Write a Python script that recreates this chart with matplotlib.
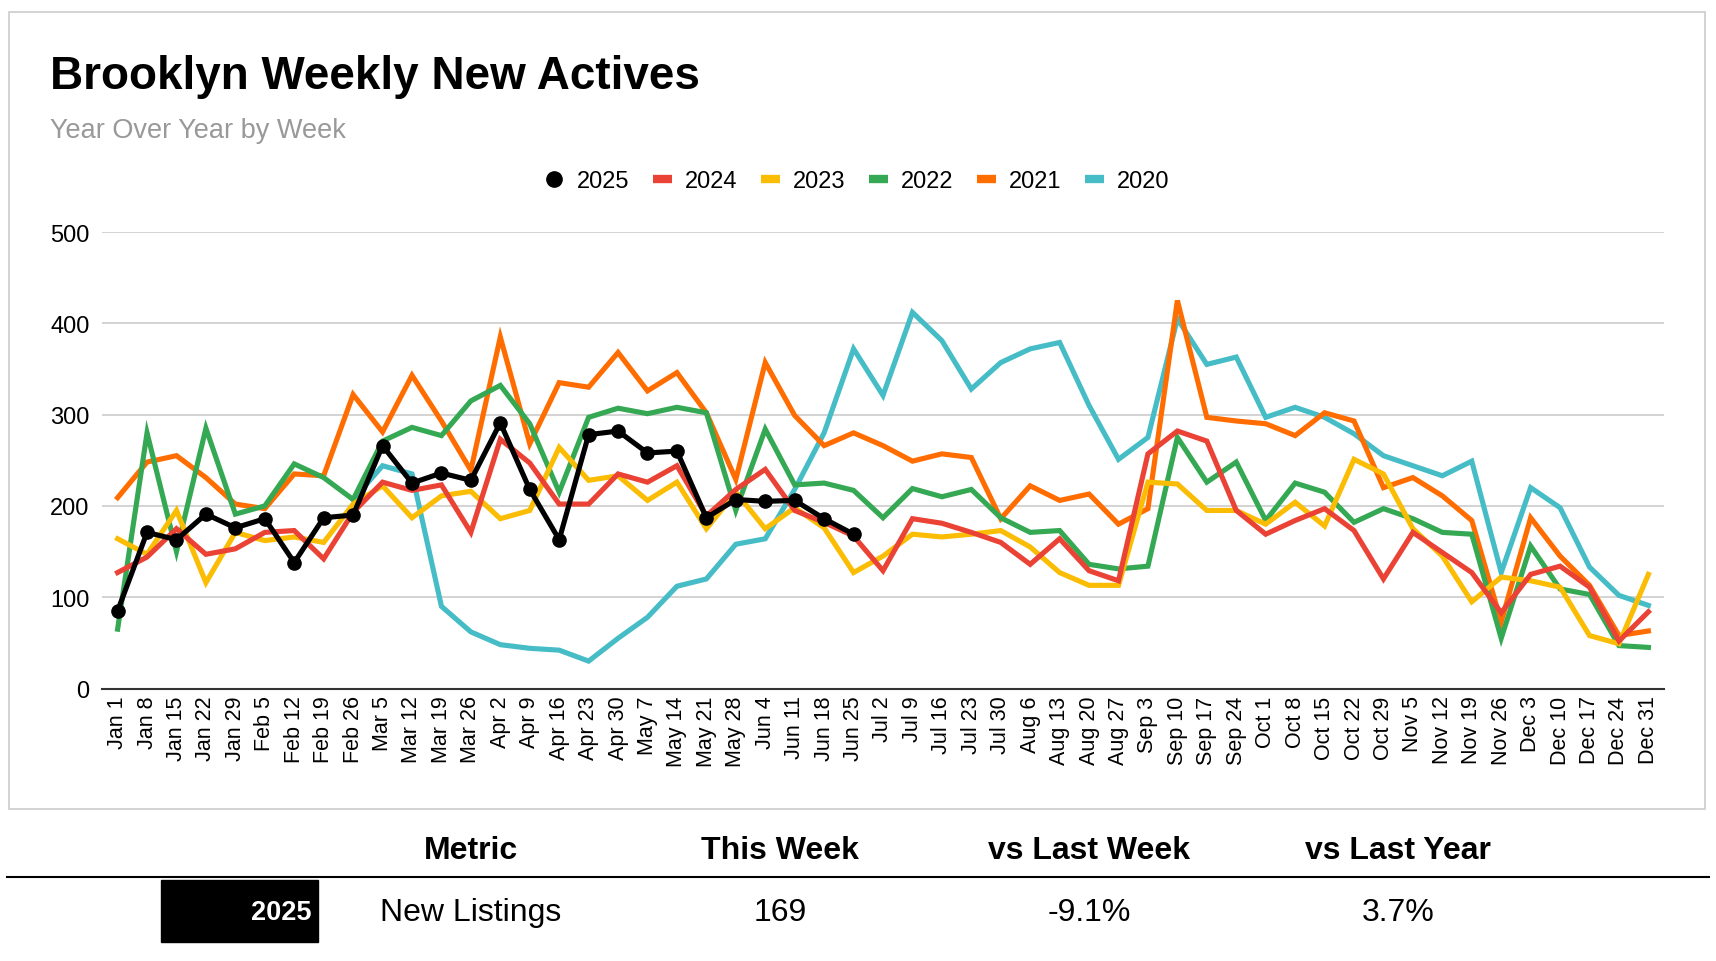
import matplotlib
matplotlib.use("Agg")
import matplotlib.pyplot as plt
from matplotlib.lines import Line2D
from matplotlib.patches import Rectangle

plt.rcParams['font.family'] = ['Liberation Sans', 'DejaVu Sans']

# week labels (x axis)
weeks = ["Jan 1", "Jan 8", "Jan 15", "Jan 22", "Jan 29", "Feb 5", "Feb 12", "Feb 19", "Feb 26",
         "Mar 5", "Mar 12", "Mar 19", "Mar 26", "Apr 2", "Apr 9", "Apr 16", "Apr 23", "Apr 30",
         "May 7", "May 14", "May 21", "May 28", "Jun 4", "Jun 11", "Jun 18", "Jun 25",
         "Jul 2", "Jul 9", "Jul 16", "Jul 23", "Jul 30", "Aug 6", "Aug 13", "Aug 20", "Aug 27",
         "Sep 3", "Sep 10", "Sep 17", "Sep 24", "Oct 1", "Oct 8", "Oct 15", "Oct 22", "Oct 29",
         "Nov 5", "Nov 12", "Nov 19", "Nov 26", "Dec 3", "Dec 10", "Dec 17", "Dec 24", "Dec 31"]

y2025 = [85, 171, 163, 191, 176, 186, 138, 187, 190, 266, 225, 236, 228, 291, 218, 163,
         278, 282, 258, 260, 187, 207, 205, 206, 186, 169]
y2024 = [127, 144, 175, 147, 153, 171, 173, 142, 193, 226, 217, 223, 171, 273, 247, 202,
         202, 235, 226, 244, 189, 218, 240, 195, 182, 167, 129, 186, 181, 171, 160, 136,
         164, 129, 118, 257, 282, 271, 195, 169, 184, 197, 173, 120, 171, 149, 127, 83,
         125, 134, 111, 52, 84]
y2023 = [164, 147, 195, 116, 171, 162, 166, 160, 202, 222, 187, 211, 216, 186, 195, 264,
         228, 233, 206, 226, 175, 215, 175, 198, 176, 127, 145, 169, 166, 169, 173, 155,
         127, 113, 113, 226, 224, 195, 195, 180, 204, 178, 251, 235, 175, 145, 95, 122,
         118, 111, 58, 49, 125]
y2022 = [65, 280, 150, 285, 191, 200, 246, 231, 207, 271, 286, 277, 315, 332, 290, 215,
         297, 307, 301, 308, 302, 195, 284, 223, 225, 217, 187, 219, 210, 218, 187, 171,
         173, 136, 131, 134, 275, 226, 248, 184, 225, 215, 182, 197, 186, 171, 169, 55,
         156, 109, 103, 47, 45]
y2021 = [209, 248, 255, 231, 202, 197, 235, 233, 322, 281, 343, 293, 239, 385, 268, 335,
         330, 368, 326, 346, 302, 229, 357, 299, 266, 280, 266, 249, 257, 253, 186, 222,
         206, 213, 180, 197, 425, 297, 293, 290, 277, 302, 293, 220, 231, 211, 184, 73,
         187, 145, 113, 58, 63]
y2020 = [None] * 8 + [207, 244, 235, 90, 62, 48, 44, 42, 30, 55, 78, 112, 120, 158, 164,
                      218, 280, 372, 321, 412, 381, 328, 357, 372, 379, 310, 251, 275, 405,
                      355, 363, 297, 308, 297, 279, 255, 244, 233, 249, 127, 220, 198, 133,
                      102, 91]

# table
headers = ["Metric", "This Week", "vs Last Week", "vs Last Year"]
row = ["New Listings", "169", "-9.1%", "3.7%"]
row_year = "2025"

W, H = 1716, 962
fig = plt.figure(figsize=(W / 100, H / 100), dpi=100)


def fx(px):
    return px / W


def fy(py):
    return 1 - py / H


# chart card border
fig.patches.append(Rectangle((fx(9), fy(810)), fx(1705) - fx(9), fy(13) - fy(810),
                             transform=fig.transFigure, fill=False, edgecolor='#cccccc', lw=1.2))

ax = fig.add_axes([fx(102), fy(689.5), fx(1664) - fx(102), fy(233) - fy(689.5)])

x = list(range(len(weeks)))
series = [
    ("2020", y2020, '#46BDC6'),
    ("2021", y2021, '#FF6D01'),
    ("2022", y2022, '#34A853'),
    ("2023", y2023, '#FBBC04'),
    ("2024", y2024, '#EA4335'),
]
for name, vals, col in series:
    xs = [i for i, v in zip(x, vals) if v is not None]
    vs = [v for v in vals if v is not None]
    ax.plot(xs, vs, color=col, lw=3.7, solid_joinstyle='miter', clip_on=False)
ax.plot(x[:len(y2025)], y2025, color='black', lw=3.7, marker='o', markersize=9.5, clip_on=False)

ax.set_xlim(-0.53, len(weeks) - 0.47)
ax.set_ylim(0, 500)
ax.set_yticks([0, 100, 200, 300, 400, 500])
ax.set_xticks(x)
ax.set_xticklabels(weeks, rotation=90, fontsize=15.5)
ax.tick_params(axis='y', length=0, pad=9, labelsize=17)
ax.tick_params(axis='x', length=0, pad=5)
ax.yaxis.grid(True, color='#cccccc', lw=1.2)
ax.set_axisbelow(True)
for s in ['top', 'right', 'left']:
    ax.spines[s].set_visible(False)
ax.spines['bottom'].set_color('#333333')
ax.spines['bottom'].set_linewidth(1.5)

# title
fig.text(fx(50), fy(89), "Brooklyn Weekly New Actives", fontsize=33, fontweight='bold',
         ha='left', va='baseline')
fig.text(fx(50), fy(138), "Year Over Year by Week", fontsize=19.5, color='#999999',
         ha='left', va='baseline')

# legend
handles = [Line2D([], [], color='black', marker='o', markersize=11, lw=0)]
labels = ["2025"]
for name, vals, col in reversed(series):
    handles.append(Line2D([], [], color=col, lw=6, solid_capstyle='butt'))
    labels.append(name)
fig.legend(handles, labels, ncol=6, loc='center', bbox_to_anchor=(fx(857), fy(182)),
           frameon=False, fontsize=17, handlelength=0.8, handletextpad=0.55,
           columnspacing=1.0)

# table below the chart
col_x = [471, 780, 1089, 1398]
for cx, h in zip(col_x, headers):
    fig.text(fx(cx), fy(851), h, fontsize=23, fontweight='bold', ha='center', va='center')
fig.lines.append(Line2D([fx(7), fx(1709)], [fy(878), fy(878)], transform=fig.transFigure,
                        color='black', lw=1.5))
fig.patches.append(Rectangle((fx(161), fy(943)), fx(318) - fx(161), fy(881) - fy(943),
                             transform=fig.transFigure, color='black'))
fig.text(fx(312), fy(913), row_year, fontsize=19.5, fontweight='bold', color='white',
         ha='right', va='center')
for cx, v in zip(col_x, row):
    fig.text(fx(cx), fy(913), v, fontsize=23, ha='center', va='center')

fig.savefig("out.png", dpi=100)
